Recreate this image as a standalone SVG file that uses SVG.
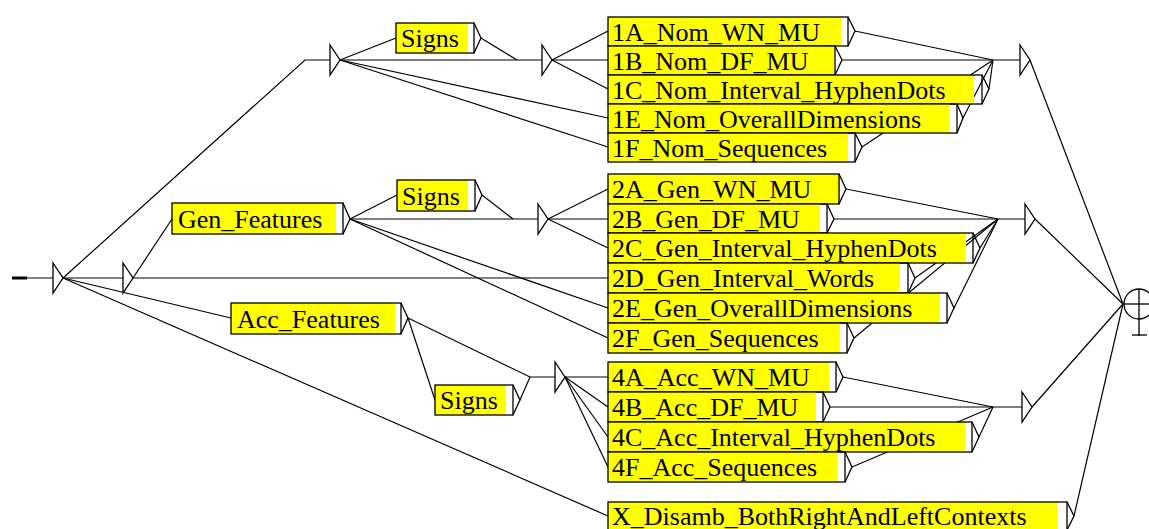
<svg xmlns="http://www.w3.org/2000/svg" width="1149" height="529" viewBox="0 0 1149 529">
<style>
.hl{fill:#ffff00}
.fr{fill:none;stroke:#000;stroke-width:1.3}
.t{font-family:"Liberation Serif","Times New Roman",serif;font-size:26px;fill:#000}
.c{fill:none;stroke:#000;stroke-width:1.2}
.eps{fill:#fff;stroke:#000;stroke-width:1.3}
</style>
<rect width="1149" height="529" fill="#fff"/>
<g id="connectors" class="c">
  <line x1="63" y1="278" x2="123" y2="278"/>
  <polyline points="63,278 305,60 330,60"/>
  <line x1="63" y1="278" x2="231" y2="318"/>
  <line x1="63" y1="278" x2="608" y2="516"/>
  <line x1="133" y1="278" x2="172" y2="219"/>
  <line x1="133" y1="278" x2="608" y2="278"/>
  <!-- group 1 -->
  <line x1="340" y1="60" x2="396" y2="38"/>
  <line x1="340" y1="60" x2="542" y2="60"/>
  <line x1="340" y1="60" x2="608" y2="118"/>
  <line x1="340" y1="60" x2="608" y2="147"/>
  <polyline points="481,38 517,60"/>
  <line x1="552" y1="60" x2="608" y2="31"/>
  <line x1="552" y1="60" x2="608" y2="60"/>
  <line x1="552" y1="60" x2="608" y2="89"/>
  <line x1="855" y1="31" x2="993" y2="60"/>
  <line x1="842" y1="60" x2="1020" y2="60"/>
  <line x1="989" y1="89" x2="993" y2="60"/>
  <line x1="963" y1="118" x2="993" y2="60"/>
  <line x1="862" y1="147" x2="993" y2="60"/>
  <!-- group 2 -->
  <line x1="350" y1="219" x2="397" y2="195"/>
  <line x1="350" y1="219" x2="538" y2="219"/>
  <line x1="350" y1="219" x2="608" y2="308"/>
  <line x1="350" y1="219" x2="608" y2="338"/>
  <line x1="482" y1="195" x2="513" y2="219"/>
  <line x1="548" y1="219" x2="608" y2="189"/>
  <line x1="548" y1="219" x2="608" y2="219"/>
  <line x1="548" y1="219" x2="608" y2="248"/>
  <line x1="846" y1="189" x2="998" y2="219"/>
  <line x1="834" y1="219" x2="1025" y2="219"/>
  <line x1="980" y1="248" x2="998" y2="219"/>
  <line x1="915" y1="278" x2="998" y2="219"/>
  <line x1="954" y1="308" x2="998" y2="219"/>
  <line x1="854" y1="338" x2="998" y2="219"/>
  <!-- group 4 -->
  <line x1="408" y1="318" x2="435" y2="400"/>
  <polyline points="408,318 530,377 555,377"/>
  <line x1="520" y1="400" x2="530" y2="377"/>
  <line x1="565" y1="377" x2="608" y2="377"/>
  <line x1="565" y1="377" x2="608" y2="407"/>
  <line x1="565" y1="377" x2="608" y2="437"/>
  <line x1="565" y1="377" x2="608" y2="467"/>
  <line x1="843" y1="377" x2="993" y2="407"/>
  <line x1="830" y1="407" x2="1022" y2="407"/>
  <line x1="979" y1="437" x2="993" y2="407"/>
  <line x1="852" y1="467" x2="993" y2="407"/>
  <!-- to final -->
  <line x1="1030" y1="60" x2="1123" y2="304"/>
  <line x1="1035" y1="219" x2="1123" y2="304"/>
  <line x1="1032" y1="407" x2="1123" y2="304"/>
  <line x1="1074" y1="516" x2="1123" y2="304"/>
</g>
<g id="initial">
  <line x1="12" y1="278" x2="53" y2="278" stroke="#000" stroke-width="1.2"/>
  <line x1="12" y1="278" x2="27" y2="278" stroke="#000" stroke-width="3"/>
  <path class="eps" d="M53,263 L63,278 L53,293 Z"/>
</g>
<g id="eps1"><path class="eps" d="M123,263 L133,278 L123,293 Z"/></g>
<g id="eps_top1"><path class="eps" d="M330,45 L340,60 L330,75 Z"/></g>
<g id="eps_top2"><path class="eps" d="M542,45 L552,60 L542,75 Z"/></g>
<g id="eps_top3"><path class="eps" d="M1020,45 L1030,60 L1020,75 Z"/></g>
<g id="eps_mid2"><path class="eps" d="M538,204 L548,219 L538,234 Z"/></g>
<g id="eps_mid3"><path class="eps" d="M1025,204 L1035,219 L1025,234 Z"/></g>
<g id="eps_low2"><path class="eps" d="M555,362 L565,377 L555,392 Z"/></g>
<g id="eps_low3"><path class="eps" d="M1022,392 L1032,407 L1022,422 Z"/></g>
<g id="final">
  <circle cx="1139" cy="304" r="15" fill="#fff" stroke="#000" stroke-width="1.3"/>
  <line x1="1124" y1="304" x2="1149" y2="304" stroke="#000" stroke-width="1.3"/>
  <line x1="1139" y1="289" x2="1139" y2="336" stroke="#000" stroke-width="1.3"/>
  <line x1="1132" y1="335" x2="1147" y2="335" stroke="#000" stroke-width="1.3"/>
</g>
<g id="signs_top">
  <rect class="hl" x="396" y="23" width="72" height="30"/>
  <rect class="fr" x="396" y="23" width="78" height="30"/>
  <path class="fr" d="M474,23 L481,38 L474,53"/>
  <text class="t" x="401" y="47">Signs</text>
</g>
<g id="n1A">
  <rect class="hl" x="608" y="17" width="233" height="29"/>
  <rect class="fr" x="608" y="17" width="240" height="29"/>
  <path class="fr" d="M848,17 L855,31 L848,46"/>
  <text class="t" x="612" y="41">1A_Nom_WN_MU</text>
</g>
<g id="n1B">
  <rect class="hl" x="608" y="46" width="226" height="29"/>
  <rect class="fr" x="608" y="46" width="227" height="29"/>
  <path class="fr" d="M835,46 L842,60 L835,75"/>
  <text class="t" x="612" y="70">1B_Nom_DF_MU</text>
</g>
<g id="n1C">
  <rect class="hl" x="608" y="75" width="366" height="29"/>
  <rect class="fr" x="608" y="75" width="374" height="29"/>
  <path class="fr" d="M982,75 L989,89 L982,104"/>
  <text class="t" x="612" y="99">1C_Nom_Interval_HyphenDots</text>
</g>
<g id="n1E">
  <rect class="hl" x="608" y="104" width="342" height="29"/>
  <rect class="fr" x="608" y="104" width="349" height="29"/>
  <path class="fr" d="M957,104 L963,118 L957,133"/>
  <text class="t" x="612" y="128">1E_Nom_OverallDimensions</text>
</g>
<g id="n1F">
  <rect class="hl" x="608" y="133" width="240" height="29"/>
  <rect class="fr" x="608" y="133" width="247" height="29"/>
  <path class="fr" d="M855,133 L862,147 L855,162"/>
  <text class="t" x="612" y="157">1F_Nom_Sequences</text>
</g>
<g id="gen_features">
  <rect class="hl" x="172" y="203" width="164" height="31"/>
  <rect class="fr" x="172" y="203" width="171" height="31"/>
  <path class="fr" d="M343,203 L350,219 L343,234"/>
  <text class="t" x="178" y="228">Gen_Features</text>
</g>
<g id="signs_mid">
  <rect class="hl" x="397" y="180" width="71" height="31"/>
  <rect class="fr" x="397" y="180" width="78" height="31"/>
  <path class="fr" d="M475,180 L482,195 L475,211"/>
  <text class="t" x="402" y="205">Signs</text>
</g>
<g id="n2A">
  <rect class="hl" x="608" y="174" width="232" height="30"/>
  <rect class="fr" x="608" y="174" width="231" height="30"/>
  <path class="fr" d="M839,174 L846,189 L839,204"/>
  <text class="t" x="612" y="198">2A_Gen_WN_MU</text>
</g>
<g id="n2B">
  <rect class="hl" x="608" y="204" width="212" height="29"/>
  <rect class="fr" x="608" y="204" width="219" height="29"/>
  <path class="fr" d="M827,204 L834,219 L827,233"/>
  <text class="t" x="612" y="228">2B_Gen_DF_MU</text>
</g>
<g id="n2C">
  <rect class="hl" x="608" y="233" width="358" height="30"/>
  <rect class="fr" x="608" y="233" width="365" height="30"/>
  <path class="fr" d="M973,233 L980,248 L973,263"/>
  <text class="t" x="612" y="257">2C_Gen_Interval_HyphenDots</text>
</g>
<g id="n2D">
  <rect class="hl" x="608" y="263" width="292" height="30"/>
  <rect class="fr" x="608" y="263" width="300" height="30"/>
  <path class="fr" d="M908,263 L915,278 L908,293"/>
  <text class="t" x="612" y="287">2D_Gen_Interval_Words</text>
</g>
<g id="n2E">
  <rect class="hl" x="608" y="293" width="332" height="30"/>
  <rect class="fr" x="608" y="293" width="339" height="30"/>
  <path class="fr" d="M947,293 L954,308 L947,323"/>
  <text class="t" x="612" y="317">2E_Gen_OverallDimensions</text>
</g>
<g id="n2F">
  <rect class="hl" x="608" y="323" width="232" height="30"/>
  <rect class="fr" x="608" y="323" width="239" height="30"/>
  <path class="fr" d="M847,323 L854,338 L847,353"/>
  <text class="t" x="612" y="347">2F_Gen_Sequences</text>
</g>
<g id="acc_features">
  <rect class="hl" x="231" y="303" width="164" height="31"/>
  <rect class="fr" x="231" y="303" width="170" height="31"/>
  <path class="fr" d="M401,303 L408,318 L401,334"/>
  <text class="t" x="237" y="328">Acc_Features</text>
</g>
<g id="signs_low">
  <rect class="hl" x="435" y="385" width="71" height="30"/>
  <rect class="fr" x="435" y="385" width="78" height="30"/>
  <path class="fr" d="M513,385 L520,400 L513,415"/>
  <text class="t" x="440" y="409">Signs</text>
</g>
<g id="n4A">
  <rect class="hl" x="608" y="362" width="221" height="30"/>
  <rect class="fr" x="608" y="362" width="228" height="30"/>
  <path class="fr" d="M836,362 L843,377 L836,392"/>
  <text class="t" x="612" y="386">4A_Acc_WN_MU</text>
</g>
<g id="n4B">
  <rect class="hl" x="608" y="392" width="208" height="30"/>
  <rect class="fr" x="608" y="392" width="215" height="30"/>
  <path class="fr" d="M823,392 L830,407 L823,422"/>
  <text class="t" x="612" y="416">4B_Acc_DF_MU</text>
</g>
<g id="n4C">
  <rect class="hl" x="608" y="422" width="357" height="30"/>
  <rect class="fr" x="608" y="422" width="364" height="30"/>
  <path class="fr" d="M972,422 L979,437 L972,452"/>
  <text class="t" x="612" y="446">4C_Acc_Interval_HyphenDots</text>
</g>
<g id="n4F">
  <rect class="hl" x="608" y="452" width="230" height="30"/>
  <rect class="fr" x="608" y="452" width="237" height="30"/>
  <path class="fr" d="M845,452 L852,467 L845,482"/>
  <text class="t" x="612" y="476">4F_Acc_Sequences</text>
</g>
<g id="x_disamb">
  <rect class="hl" x="608" y="502" width="450" height="28"/>
  <rect class="fr" x="608" y="502" width="459" height="28"/>
  <path class="fr" d="M1067,502 L1074,516 L1067,530"/>
  <text class="t" x="612" y="525">X_Disamb_BothRightAndLeftContexts</text>
</g>
</svg>
